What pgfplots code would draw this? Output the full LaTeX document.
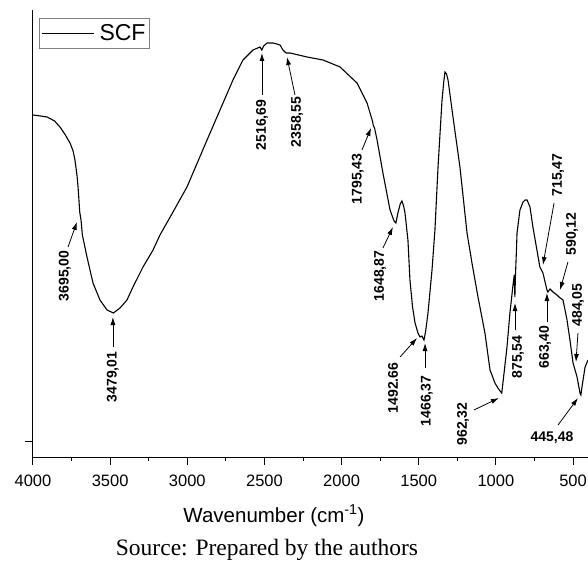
\documentclass[border=0pt]{standalone}
\usepackage{pgfplots}
\pgfplotsset{compat=1.18}
\usepackage{fontspec}
\setmainfont{Liberation Sans}
\newfontfamily\capfont{Liberation Serif}
\usetikzlibrary{arrows.meta}
\tikzset{
  annot/.style={font=\bfseries\fontsize{14}{14}\selectfont, rotate=90},
  arr/.style={-{Latex[length=8pt,width=5pt]}, line width=0.8pt},
}
\begin{document}
\begin{tikzpicture}[x=1pt,y=1pt]
\useasboundingbox (-33,-105) rectangle (555,457);
\begin{axis}[
  at={(0,0)}, anchor=south west,
  scale only axis, width=555pt, height=447pt,
  xmin=403, xmax=4000, ymin=0, ymax=447, x dir=reverse,
  axis x line=bottom, axis y line=left,
  axis line style={line width=1pt, -},
  xtick={500,1000,...,4000}, minor x tick num=1,
  ytick={16}, yticklabels={},
  tick align=outside, major tick length=8pt, minor tick length=4pt,
  tick style={line width=1pt, black},
  ticklabel style={font=\fontsize{16.5}{16.5}\selectfont},
  xticklabel style={yshift=-6pt},
  /pgf/number format/assume math mode=true,
  /pgf/number format/1000 sep={},
  scaled ticks=false,
  clip=false,
  legend style={at={(axis cs:3961,439)}, anchor=north west, draw=gray, line width=0.8pt,
    inner xsep=2pt, inner ysep=4pt, font=\fontsize{23}{23}\selectfont},
  legend image code/.code={\draw[line width=1.1pt] (2pt,0pt) -- (54pt,0pt);},
]
\addplot[black, line width=1.1pt] coordinates {
(4000,342) (3950,341) (3909,340) (3860,336) (3825,330) (3790,322) (3760,314)
(3740,306) (3728,297) (3715,282) (3708,270) (3700,252) (3697,245) (3693,241)
(3688,236) (3680,222) (3650,200) (3611,174) (3566,157) (3520,147) (3479,144)
(3436,149) (3391,157) (3352,170) (3287,190) (3222,207) (3177,222) (3100,243)
(3002,270) (2872,317) (2788,347) (2704,377) (2639,397) (2574,407) (2529,410)
(2517,407) (2505,411) (2483,414) (2445,414) (2420,413) (2399,412) (2380,407)
(2360,404) (2334,404) (2224,400) (2120,397) (2010,390) (1900,374) (1835,354)
(1800,336) (1795,332) (1785,328) (1770,317) (1732,284) (1686,247) (1660,236)
(1648,234) (1635,244) (1620,253) (1609,256) (1598,251) (1589,244) (1570,217)
(1557,177) (1540,150) (1524,134) (1505,124) (1492,120) (1479,121) (1466,117)
(1455,126) (1440,144) (1414,187) (1395,227) (1375,290) (1349,357) (1338,375)
(1330,385) (1320,383) (1310,377) (1278,340) (1233,290) (1187,224) (1155,194)
(1116,160) (1071,124) (1038,87) (1006,74) (987,69) (973,66) (962,64) (950,80)
(928,110) (909,144) (889,172) (881,182) (877,160) (873,182) (866,210) (863,224)
(844,247) (824,255) (810,257) (798,257) (779,250) (760,230) (734,207) (715,190)
(695,184) (669,167) (663,165) (649,168) (630,165) (604,162) (591,160) (565,157)
(539,137) (520,117) (500,94) (487,87) (474,80) (455,64) (449,62) (442,70)
(422,90) (403,97)
};
\addlegendentry{\hspace{3pt}SCF}
% annotations
\node[annot] at (axis cs:3793,181) {3695,00};
\draw[arr] (axis cs:3773,210) -- (axis cs:3715,235);
\node[annot] at (axis cs:3482,80) {3479,01};
\draw[arr] (axis cs:3482,110) -- (axis cs:3482,140);
\node[annot] at (axis cs:2516,332) {2516,69};
\draw[arr] (axis cs:2516,362) -- (axis cs:2516,404);
\node[annot] at (axis cs:2289,335) {2358,55};
\draw[arr] (axis cs:2302,362) -- (axis cs:2354,400);
\node[annot] at (axis cs:1894,278) {1795,43};
\draw[arr] (axis cs:1868,307) -- (axis cs:1809,329);
\node[annot] at (axis cs:1751,181) {1648,87};
\draw[arr] (axis cs:1732,209) -- (axis cs:1667,230);
\node[annot] at (axis cs:1667,69) {1492.66};
\draw[arr] (axis cs:1621,100) -- (axis cs:1511,119);
\node[annot] at (axis cs:1447,56) {1466,37};
\draw[arr] (axis cs:1459,89) -- (axis cs:1459,114);
\node[annot] at (axis cs:1213,33) {962,32};
\draw[arr] (axis cs:1142,47) -- (axis cs:980,59);
\node[annot] at (axis cs:857,100) {875,54};
\draw[arr] (axis cs:876,127) -- (axis cs:876,154);
\node[annot] at (axis cs:682,110) {663,40};
\draw[arr] (axis cs:669,135) -- (axis cs:669,164);
\node[annot] at (axis cs:597,282) {715,47};
\draw[arr] (axis cs:623,254) -- (axis cs:695,192);
\node[annot] at (axis cs:507,223) {590,12};
\draw[arr] (axis cs:533,195) -- (axis cs:584,167);
\node[annot] at (axis cs:468,152) {484,05};
\draw[arr] (axis cs:468,124) -- (axis cs:481,95);
\node[font=\bfseries\fontsize{14}{14}\selectfont] at (axis cs:636,19) {445,48};
\draw[arr] (axis cs:597,32) -- (axis cs:468,59);
\node[anchor=base, font=\fontsize{20.5}{20.5}\selectfont, yshift=-65pt] at (axis cs:2438,0) {Wavenumber (cm\textsuperscript{-1})};
\end{axis}
\node[anchor=base, font=\capfont\fontsize{23.5}{23.5}\selectfont] at (234,-98) {Source: Prepared by the authors};
\end{tikzpicture}
\end{document}
